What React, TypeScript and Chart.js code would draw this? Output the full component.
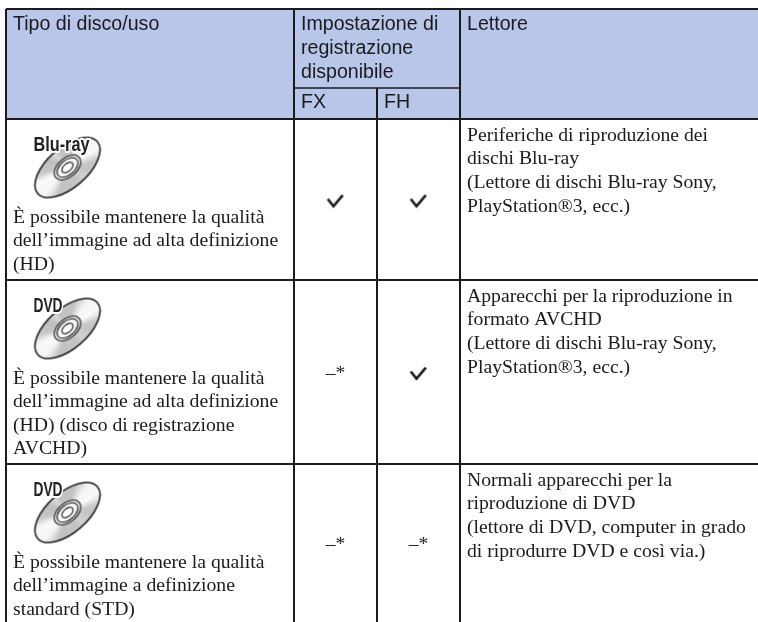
import React, { useEffect, useRef } from "react";
import { Chart, registerables } from "chart.js";

Chart.register(...registerables);

// ---- content ----
const headerDisc = ["Tipo di disco/uso"];
const headerSetting = ["Impostazione di", "registrazione", "disponibile"];
const headerPlayer = ["Lettore"];
const modes = ["FX", "FH"];
const discLabels = ["Blu-ray", "DVD", "DVD"];
const discUses = [
  ["È possibile mantenere la qualità", "dell’immagine ad alta definizione", "(HD)"],
  ["È possibile mantenere la qualità", "dell’immagine ad alta definizione", "(HD) (disco di registrazione", "AVCHD)"],
  ["È possibile mantenere la qualità", "dell’immagine a definizione", "standard (STD)"],
];
const players = [
  ["Periferiche di riproduzione dei", "dischi Blu-ray", "(Lettore di dischi Blu-ray Sony,", "PlayStation®3, ecc.)"],
  ["Apparecchi per la riproduzione in", "formato AVCHD", "(Lettore di dischi Blu-ray Sony,", "PlayStation®3, ecc.)"],
  ["Normali apparecchi per la", "riproduzione di DVD", "(lettore di DVD, computer in grado", "di riprodurre DVD e così via.)"],
];
const fxAvailable = [true, false, false];
const fhAvailable = [true, true, false];
const NOT_AVAILABLE = "–*";

// ---- layout (scale units are page pixels) ----
const WIDTH = 758;
const HEIGHT = 622;
const colEdges = [6, 294, 377, 460, 758];
const headerTop = 9;
const subHeaderTop = 88;
const rowEdges = [119, 280, 464, 622];
const labelWidths = [56, 29, 29];

const SANS = '"Liberation Sans", Arial, sans-serif';
const SERIF = '"Liberation Serif", "Times New Roman", serif';
const INK = "#1c1a1a";
const HEADER_FILL = "#B7C6E9";

function segment(x1: number, y1: number, x2: number, y2: number, w: number) {
  return {
    type: "line",
    data: [{ x: x1, y: y1 }, { x: x2, y: y2 }],
    borderColor: INK,
    borderWidth: w,
    pointRadius: 0,
    fill: false,
    order: 5,
  };
}

function makeCheckIcon() {
  const c = document.createElement("canvas");
  c.width = 22;
  c.height = 20;
  const g = c.getContext("2d")!;
  g.strokeStyle = INK;
  g.lineWidth = 2.6;
  g.lineJoin = "miter";
  g.beginPath();
  g.moveTo(3.3, 9.5);
  g.lineTo(9, 16.8);
  g.lineTo(18.3, 5.6);
  g.stroke();
  return c;
}

function makeDiscIcon() {
  const c = document.createElement("canvas");
  c.width = 92;
  c.height = 80;
  const g = c.getContext("2d")!;
  const cx = 46;
  const cy = 40;
  const tilt = (-41 * Math.PI) / 180;
  const ell = (a: number, b: number) => {
    g.beginPath();
    g.ellipse(cx, cy, a, b, tilt, 0, Math.PI * 2);
  };
  const cone = g.createConicGradient(0, cx, cy);
  const stops: [number, string][] = [
    [0, "#c4c4c4"], [0.08, "#d2d2d2"], [0.14, "#c6c6c6"], [0.3, "#c2c2c2"], [0.36, "#f6f6f6"],
    [0.42, "#fafafa"], [0.47, "#c6c6c6"], [0.56, "#bebebe"], [0.62, "#d8d8d8"], [0.68, "#c2c2c2"],
    [0.79, "#c2c2c2"], [0.85, "#f4f4f4"], [0.91, "#fafafa"], [0.96, "#c8c8c8"], [1, "#c4c4c4"],
  ];
  stops.forEach(([p, col]) => cone.addColorStop(p, col));
  ell(39.5, 20);
  g.fillStyle = cone;
  g.fill();
  g.lineWidth = 1.5;
  g.strokeStyle = INK;
  g.stroke();

  ell(15.5, 9.5);
  g.fillStyle = "#e6e6e6";
  g.fill();
  g.lineWidth = 1.1;
  g.stroke();
  ell(12.2, 7.3);
  g.fillStyle = "#f6f6f6";
  g.fill();
  g.stroke();
  ell(6.6, 3.8);
  g.fillStyle = "#ffffff";
  g.fill();
  g.stroke();
  return c;
}

function centre(a: number, b: number) {
  return (a + b) / 2;
}

const rowCount = discLabels.length;
const rowTop = (r: number) => rowEdges[r];
const rowMid = (r: number) => centre(rowEdges[r], rowEdges[r + 1]);
const fxCol = centre(colEdges[1], colEdges[2]);
const fhCol = centre(colEdges[2], colEdges[3]);

const tablePlugin = {
  id: "tableText",
  afterDatasetsDraw(chart: any) {
    const { ctx, scales } = chart;
    const X = (v: number) => scales.x.getPixelForValue(v);
    const Y = (v: number) => scales.y.getPixelForValue(v);
    const put = (t: string, x: number, y: number, font: string, align: CanvasTextAlign = "left") => {
      ctx.font = font;
      ctx.textAlign = align;
      ctx.textBaseline = "alphabetic";
      ctx.fillStyle = INK;
      ctx.fillText(t, X(x), Y(y));
    };
    ctx.save();
    const headFont = `19.6px ${SANS}`;
    const bodyFont = `19.7px ${SERIF}`;
    headerDisc.forEach((t, i) => put(t, colEdges[0] + 7, 30 + i * 24, headFont));
    headerSetting.forEach((t, i) => put(t, colEdges[1] + 7, 30 + i * 24, headFont));
    headerPlayer.forEach((t, i) => put(t, colEdges[3] + 7, 30 + i * 24, headFont));
    modes.forEach((t, i) => put(t, colEdges[i + 1] + 7, 108, headFont));

    for (let r = 0; r < rowCount; r++) {
      discUses[r].forEach((t, i) => put(t, colEdges[0] + 7, rowTop(r) + 103.5 + i * 23.6, bodyFont));
      players[r].forEach((t, i) => put(t, colEdges[3] + 7, rowTop(r) + 21.5 + i * 23.7, bodyFont));
      if (!fxAvailable[r]) put(NOT_AVAILABLE, fxCol, rowMid(r) + 7, `19.6px ${SERIF}`, "center");
      if (!fhAvailable[r]) put(NOT_AVAILABLE, fhCol, rowMid(r) + 7, `19.6px ${SERIF}`, "center");

      // disc name, condensed bold with a white halo
      const label = discLabels[r];
      const px = X(colEdges[0] + 27.5);
      const py = Y(rowTop(r) + 31.7);
      ctx.save();
      ctx.font = `bold 21px ${SANS}`;
      const squeeze = labelWidths[r] / ctx.measureText(label).width;
      ctx.translate(px, py);
      ctx.scale(squeeze, 1);
      ctx.textAlign = "left";
      ctx.lineWidth = 4;
      ctx.lineJoin = "round";
      ctx.strokeStyle = "#ffffff";
      ctx.strokeText(label, 0, 0);
      ctx.fillStyle = "#222222";
      ctx.fillText(label, 0, 0);
      ctx.restore();
    }
    ctx.restore();
  },
};

export default function App() {
  const ref = useRef<HTMLCanvasElement>(null);
  useEffect(() => {
    const discIcon = makeDiscIcon();
    const checkIcon = makeCheckIcon();
    const rowIdx = discLabels.map((_, i) => i);
    const checks = [
      ...rowIdx.filter((r) => fxAvailable[r]).map((r) => ({ x: fxCol, y: rowMid(r) })),
      ...rowIdx.filter((r) => fhAvailable[r]).map((r) => ({ x: fhCol, y: rowMid(r) })),
    ];
    const bottom = rowEdges[rowEdges.length - 1];
    const datasets: any[] = [
      {
        type: "line",
        data: [{ x: colEdges[0], y: headerTop }, { x: WIDTH, y: headerTop }],
        borderWidth: 0,
        pointRadius: 0,
        fill: { value: rowEdges[0] },
        backgroundColor: HEADER_FILL,
        order: 10,
      },
      segment(colEdges[0], headerTop, WIDTH, headerTop, 2),
      segment(colEdges[0], rowEdges[0], WIDTH, rowEdges[0], 2),
      segment(colEdges[0], rowEdges[1], WIDTH, rowEdges[1], 2),
      segment(colEdges[0], rowEdges[2], WIDTH, rowEdges[2], 2),
      segment(colEdges[1], subHeaderTop, colEdges[3], subHeaderTop, 1.5),
      segment(colEdges[0], headerTop, colEdges[0], bottom, 2),
      segment(colEdges[1], headerTop, colEdges[1], bottom, 2),
      segment(colEdges[3], headerTop, colEdges[3], bottom, 2),
      segment(colEdges[2], subHeaderTop, colEdges[2], bottom, 2),
      {
        type: "scatter",
        data: checks,
        pointStyle: checkIcon,
        pointRadius: 10,
        order: 1,
      },
      {
        type: "scatter",
        data: rowIdx.map((r) => ({ x: colEdges[0] + 61.5, y: rowTop(r) + 48.5 })),
        pointStyle: discIcon,
        pointRadius: 40,
        order: 2,
      },
    ];
    const chart = new Chart(ref.current!, {
      type: "scatter",
      data: { datasets },
      plugins: [tablePlugin],
      options: {
        animation: false,
        responsive: false,
        clip: false,
        layout: { padding: 0, autoPadding: false },
        plugins: { legend: { display: false }, title: { display: false }, tooltip: { enabled: false } },
        scales: {
          x: { type: "linear", min: 0, max: WIDTH, display: false },
          y: { type: "linear", min: 0, max: HEIGHT, reverse: true, display: false },
        },
      },
    } as any);
    return () => chart.destroy();
  }, []);
  return (
    <div style={{ position: "absolute", left: 0, top: 0, width: WIDTH, height: HEIGHT, overflow: "hidden", background: "#fff" }}>
      <canvas ref={ref} width={WIDTH} height={HEIGHT} style={{ display: "block" }} />
    </div>
  );
}
